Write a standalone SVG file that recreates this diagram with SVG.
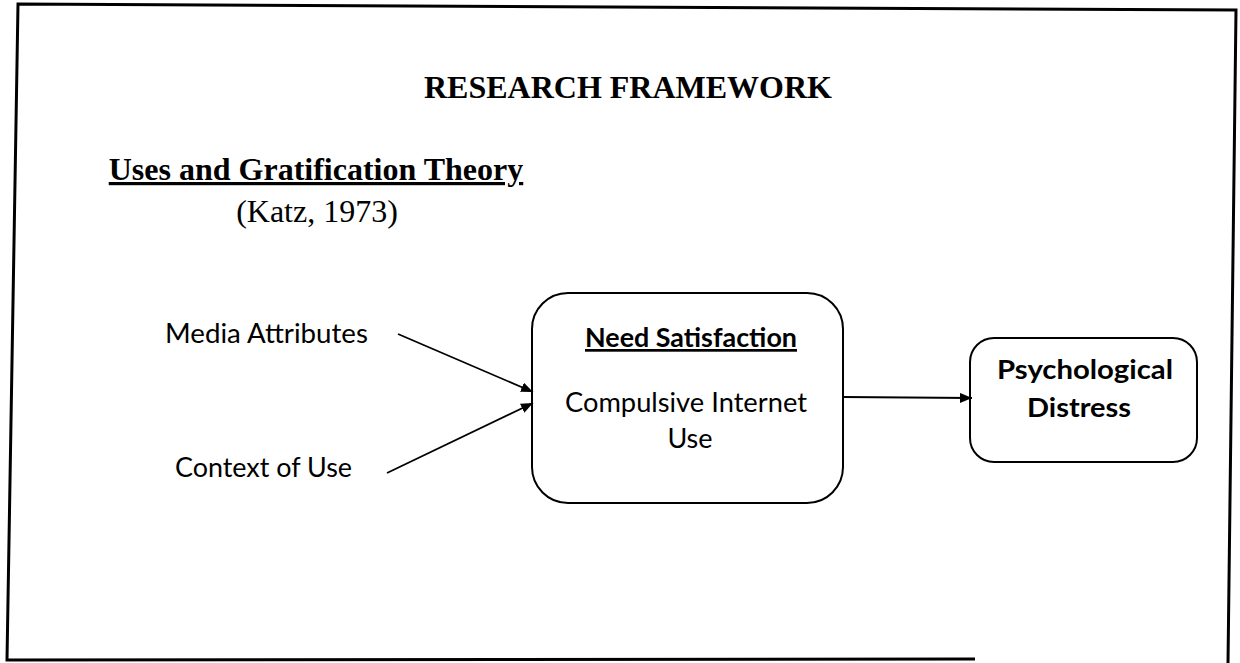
<svg xmlns="http://www.w3.org/2000/svg" width="1240" height="663" viewBox="0 0 1240 663">
  <style>
    .serif { font-family: "Liberation Serif", "Times New Roman", serif; fill: #000; }
    .sans { font-family: Lato, "Liberation Sans", Arial, sans-serif; fill: #000; font-size: 27px; }
    .box { fill: #fff; stroke: #000; stroke-width: 2; }
    .link { stroke: #000; stroke-width: 1.8; fill: none; marker-end: url(#head); }
  </style>
  <defs>
    <marker id="head" viewBox="0 0 12 10" refX="12" refY="5" markerWidth="12" markerHeight="10" markerUnits="userSpaceOnUse" orient="auto">
      <path d="M0,0 L12,5 L0,10 Z" fill="#000"/>
    </marker>
  </defs>

  <rect width="1240" height="663" fill="#fff"/>

  <!-- outer frame, slightly skewed as on the page -->
  <path d="M1228,663 L1236,10 L18,4 L7,660 L975,659" fill="none" stroke="#000" stroke-width="3"/>

  <!-- headings -->
  <text class="serif" x="628" y="98" font-size="32" font-weight="bold" text-anchor="middle">RESEARCH FRAMEWORK</text>
  <text class="serif" x="316" y="180" font-size="32" font-weight="bold" text-anchor="middle" text-decoration="underline">Uses and Gratification Theory</text>
  <text class="serif" x="317" y="222" font-size="32" text-anchor="middle">(Katz, 1973)</text>

  <!-- inputs -->
  <g id="media-attributes">
    <text class="sans" x="165" y="343" textLength="203" lengthAdjust="spacingAndGlyphs">Media Attributes</text>
  </g>
  <g id="context-of-use">
    <text class="sans" x="175" y="477" textLength="177" lengthAdjust="spacingAndGlyphs">Context of Use</text>
  </g>

  <g id="need-satisfaction">
    <rect class="box" x="532" y="293" width="311" height="210" rx="36" ry="36"/>
    <text class="sans" x="585" y="347" font-weight="bold" text-decoration="underline" textLength="212" lengthAdjust="spacingAndGlyphs">Need Satisfaction</text>
    <text class="sans" x="565" y="412" textLength="242" lengthAdjust="spacingAndGlyphs">Compulsive Internet</text>
    <text class="sans" x="690" y="448" text-anchor="middle">Use</text>
  </g>

  <g id="psychological-distress">
    <rect class="box" x="970" y="338" width="227" height="124" rx="24" ry="24"/>
    <text class="sans" x="997" y="379" font-weight="bold" textLength="176" lengthAdjust="spacingAndGlyphs">Psychological</text>
    <text class="sans" x="1027" y="417" font-weight="bold" textLength="104" lengthAdjust="spacingAndGlyphs">Distress</text>
  </g>

  <g id="connectors">
    <line class="link" x1="398" y1="334" x2="533" y2="392"/>
    <line class="link" x1="387" y1="473" x2="533" y2="403"/>
    <line class="link" x1="843" y1="397" x2="972" y2="398"/>
  </g>
</svg>
